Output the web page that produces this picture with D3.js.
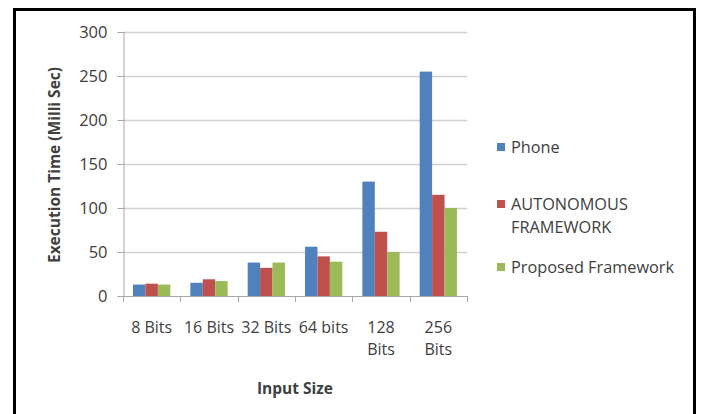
<!DOCTYPE html>
<html>
<head>
<meta charset="utf-8">
<script src="https://cdn.jsdelivr.net/npm/d3@7"></script>
<style>
  html, body { margin: 0; padding: 0; background: #fff; }
  svg { display: block; }
  text { font-family: "Open Sans", "DejaVu Sans", sans-serif; fill: #404040; }
</style>
</head>
<body>
<svg id="chart" width="701" height="414"></svg>
<script>
// Input sizes along the x axis
const categories = ["8 Bits", "16 Bits", "32 Bits", "64 bits", "128 Bits", "256 Bits"];
// Wrapped tick label lines per category
const tickLabelLines = [["8 Bits"], ["16 Bits"], ["32 Bits"], ["64 bits"], ["128", "Bits"], ["256", "Bits"]];
// Series names and colours
const seriesNames = ["Phone", "AUTONOMOUS FRAMEWORK", "Proposed Framework"];
const legendLines = [["Phone"], ["AUTONOMOUS", "FRAMEWORK"], ["Proposed Framework"]];
const seriesColors = ["#4F81BD", "#C0504D", "#9BBB59"];
// Execution time (ms) per series
const phone = [13, 15, 38, 56, 130, 255];
const autonomous = [14, 19, 32, 45, 73, 115];
const proposed = [13, 17, 38, 39, 50, 100];
const seriesValues = [phone, autonomous, proposed];
// Y axis ticks
const yTicks = [0, 50, 100, 150, 200, 250, 300];

const svg = d3.select("#chart");

// Outer frame
svg.append("rect")
  .attr("x", 14.5).attr("y", 9.5)
  .attr("width", 680).attr("height", 430)
  .attr("fill", "#fff")
  .attr("stroke", "#000").attr("stroke-width", 3);

const plot = { left: 123, right: 467, top: 32, bottom: 296 };

const y = d3.scaleLinear().domain([0, 300]).range([plot.bottom, plot.top]);
const x0 = d3.scaleBand().domain(categories)
  .range([plot.left, plot.right])
  .paddingInner(0.35).paddingOuter(0.175);
const x1 = d3.scaleBand().domain(seriesNames).range([0, x0.bandwidth()]);

// Horizontal gridlines
svg.append("g").selectAll("line")
  .data(yTicks.filter(d => d > 0))
  .join("line")
  .attr("x1", plot.left).attr("x2", plot.right)
  .attr("y1", d => Math.round(y(d)) + 0.5).attr("y2", d => Math.round(y(d)) + 0.5)
  .attr("stroke", "#cfcfcf").attr("stroke-width", 1.5);

// Y axis
const yAxis = d3.axisLeft(y).tickValues(yTicks).tickSize(6).tickPadding(10);
const gy = svg.append("g")
  .attr("transform", `translate(${plot.left + 0.5},0)`)
  .call(yAxis);
gy.select(".domain").attr("stroke", "#a8a8a8");
gy.selectAll(".tick line").attr("stroke", "#a8a8a8");
gy.selectAll(".tick text")
  .attr("font-size", 16.5)
  .attr("font-family", null)
  .attr("fill", "#404040")
  .attr("dy", "0.36em");

// Bars
const groups = svg.append("g").selectAll("g")
  .data(categories)
  .join("g")
  .attr("transform", d => `translate(${x0(d)},0)`);
groups.selectAll("rect")
  .data((c, i) => seriesNames.map((s, j) => ({ s, j, v: seriesValues[j][i] })))
  .join("rect")
  .attr("x", d => x1(d.s))
  .attr("width", x1.bandwidth())
  .attr("y", d => y(d.v))
  .attr("height", d => y(0) - y(d.v))
  .attr("fill", d => seriesColors[d.j]);

// X axis baseline and category boundary ticks
const step = x0.step();
const boundaries = categories.map(c => x0(c) - step * x0.paddingInner() / 2).concat([plot.right]);
svg.append("line")
  .attr("x1", plot.left).attr("x2", plot.right)
  .attr("y1", y(0) + 0.5).attr("y2", y(0) + 0.5)
  .attr("stroke", "#a8a8a8");
svg.append("g").selectAll("line")
  .data(boundaries)
  .join("line")
  .attr("x1", d => Math.round(d) + 0.5).attr("x2", d => Math.round(d) + 0.5)
  .attr("y1", y(0)).attr("y2", y(0) + 6)
  .attr("stroke", "#a8a8a8");

// Category labels
const lab = svg.append("g").selectAll("text")
  .data(categories)
  .join("text")
  .attr("text-anchor", "middle")
  .attr("font-size", 16)
  .attr("x", d => x0(d) + x0.bandwidth() / 2)
  .attr("y", 333);
lab.selectAll("tspan")
  .data((d, i) => tickLabelLines[i])
  .join("tspan")
  .attr("x", function () { return this.parentNode.getAttribute("x"); })
  .attr("dy", (d, i) => i === 0 ? 0 : 22)
  .text(d => d);

// Axis titles
svg.append("text")
  .attr("x", (plot.left + plot.right) / 2).attr("y", 394)
  .attr("text-anchor", "middle")
  .attr("font-size", 15.5).attr("font-weight", "bold")
  .text("Input Size");
svg.append("text")
  .attr("transform", "translate(60,165) rotate(-90)")
  .attr("text-anchor", "middle")
  .attr("font-size", 15.5).attr("font-weight", "bold")
  .text("Execution Time (Milli Sec)");

// Legend
const legendY = [153, 210, 273];
const legend = svg.append("g").selectAll("g")
  .data(seriesNames)
  .join("g")
  .attr("transform", (d, i) => `translate(497,${legendY[i]})`);
legend.append("rect")
  .attr("x", 0).attr("y", -10)
  .attr("width", 8).attr("height", 8)
  .attr("fill", (d, i) => seriesColors[i]);
const lt = legend.append("text")
  .attr("x", 14).attr("y", 0)
  .attr("font-size", 16.3);
lt.selectAll("tspan")
  .data((d, i) => legendLines[i])
  .join("tspan")
  .attr("x", 14)
  .attr("dy", (d, i) => i === 0 ? 0 : 23)
  .text(d => d);
</script>
</body>
</html>
